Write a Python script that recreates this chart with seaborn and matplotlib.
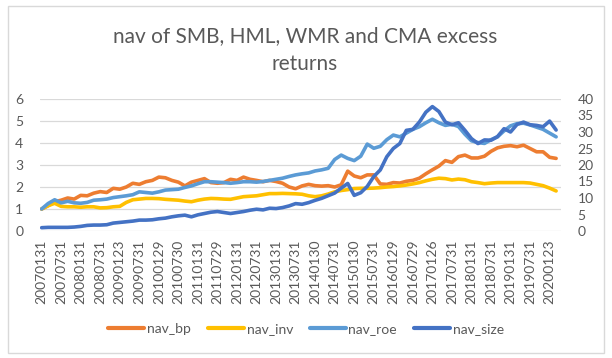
import numpy as np
import pandas as pd
import matplotlib
matplotlib.use("Agg")
import matplotlib.pyplot as plt
import seaborn as sns
from matplotlib.patches import Rectangle
from matplotlib.lines import Line2D

title = "nav of SMB, HML, WMR and CMA excess\nreturns"
tick_labels = ["20070131", "20070731", "20080131", "20080731", "20090123", "20090731",
               "20100129", "20100730", "20110131", "20110729", "20120131", "20120731",
               "20130131", "20130731", "20140130", "20140731", "20150130", "20150731",
               "20160129", "20160729", "20170126", "20170731", "20180131", "20180731",
               "20190131", "20190731", "20200123"]
n_categories = 160          # monthly categories 2007-01 .. 2020-04
month_idx = list(range(0, 160, 2))   # category index of each sampled point

nav_bp = [1.0, 1.15, 1.33, 1.4, 1.5, 1.45, 1.62, 1.6, 1.72, 1.79,
          1.75, 1.94, 1.9, 2.0, 2.17, 2.12, 2.24, 2.3, 2.45, 2.42,
          2.3, 2.22, 2.05, 2.22, 2.3, 2.38, 2.2, 2.17, 2.2, 2.35,
          2.3, 2.45, 2.35, 2.3, 2.24, 2.3, 2.25, 2.17, 2.0, 1.92,
          2.05, 2.12, 2.06, 2.04, 2.06, 2.0, 2.1, 2.72, 2.5, 2.42,
          2.55, 2.55, 2.14, 2.12, 2.2, 2.18, 2.26, 2.3, 2.4, 2.6,
          2.78, 2.95, 3.2, 3.12, 3.38, 3.45, 3.32, 3.32, 3.4, 3.62,
          3.78, 3.85, 3.88, 3.83, 3.9, 3.75, 3.6, 3.6, 3.35, 3.3]
nav_inv = [1.0, 1.15, 1.26, 1.12, 1.1, 1.1, 1.08, 1.1, 1.1, 1.05,
           1.06, 1.1, 1.12, 1.3, 1.42, 1.45, 1.48, 1.48, 1.47, 1.44,
           1.42, 1.4, 1.36, 1.33, 1.4, 1.45, 1.48, 1.47, 1.45, 1.44,
           1.5, 1.56, 1.58, 1.6, 1.65, 1.7, 1.7, 1.71, 1.7, 1.69,
           1.67, 1.6, 1.56, 1.6, 1.68, 1.78, 1.84, 1.88, 1.93, 1.94,
           1.94, 1.95, 1.97, 2.0, 2.02, 2.05, 2.09, 2.14, 2.2, 2.28,
           2.35, 2.4, 2.38, 2.32, 2.36, 2.33, 2.24, 2.2, 2.15, 2.18,
           2.2, 2.2, 2.2, 2.2, 2.2, 2.18, 2.12, 2.06, 1.95, 1.82]
nav_roe = [1.0, 1.25, 1.42, 1.28, 1.35, 1.28, 1.26, 1.3, 1.4, 1.42,
           1.45, 1.52, 1.56, 1.6, 1.65, 1.78, 1.75, 1.72, 1.78, 1.86,
           1.88, 1.9, 1.98, 2.05, 2.15, 2.24, 2.24, 2.22, 2.2, 2.17,
           2.2, 2.24, 2.24, 2.22, 2.25, 2.3, 2.35, 2.4, 2.48, 2.55,
           2.6, 2.64, 2.73, 2.78, 2.85, 3.25, 3.45, 3.3, 3.2, 3.4,
           3.95, 3.76, 3.85, 4.15, 4.36, 4.28, 4.45, 4.62, 4.74, 4.92,
           5.08, 4.92, 4.8, 4.85, 4.75, 4.4, 4.1, 4.02, 3.98, 4.15,
           4.28, 4.55, 4.78, 4.88, 4.9, 4.82, 4.72, 4.62, 4.45, 4.28]
nav_size = [1.0, 1.1, 1.1, 1.1, 1.1, 1.2, 1.4, 1.7, 1.8, 1.8,
            1.9, 2.4, 2.6, 2.8, 3.0, 3.3, 3.3, 3.4, 3.7, 3.9,
            4.3, 4.6, 4.8, 4.3, 4.9, 5.3, 5.7, 5.9, 5.6, 5.3,
            5.6, 5.9, 6.3, 6.6, 6.4, 6.9, 6.8, 7.1, 7.6, 8.3,
            8.1, 8.6, 9.3, 9.9, 10.7, 11.5, 13.0, 14.4, 10.8, 11.6,
            13.5, 16.5, 18.5, 22.5, 25.0, 26.5, 30.5, 30.8, 33.0, 36.0,
            37.7, 36.2, 33.0, 32.2, 32.8, 30.5, 28.0, 26.5, 27.6, 27.5,
            28.6, 31.0, 30.0, 32.3, 33.0, 32.2, 32.0, 31.6, 33.3, 30.6]

left_series = ["nav_bp", "nav_inv", "nav_roe"]
colors = {"nav_bp": "#ED7D31", "nav_inv": "#FFC000", "nav_roe": "#5B9BD5", "nav_size": "#4472C4"}

sns.set_theme(style="white")
plt.rcParams['font.family'] = ['Lato', 'DejaVu Sans']
text_color = "#595959"
grid_color = "#D9D9D9"

W, H = 612, 358
fig = plt.figure(figsize=(W / 100, H / 100), dpi=100)
fig.patch.set_facecolor("white")
fig.patches.append(Rectangle((8 / W, 1 - 353 / H), (604 - 8) / W, (353 - 6) / H,
                             transform=fig.transFigure, fill=False,
                             edgecolor=grid_color, linewidth=1.0))

pl, pr, pt, pb = 40, 561, 99, 231
ax = fig.add_axes([pl / W, 1 - pb / H, (pr - pl) / W, (pb - pt) / H])

df = pd.DataFrame({"month": month_idx, "nav_bp": nav_bp, "nav_inv": nav_inv, "nav_roe": nav_roe})
long = df.melt(id_vars="month", var_name="series", value_name="nav")
lw = 2.6
sns.lineplot(data=long, x="month", y="nav", hue="series", hue_order=left_series,
             palette=colors, linewidth=lw, ax=ax, legend=False)
ax.set_ylim(0, 6)
ax.set_yticks(range(0, 7))
ax.set_xlim(-0.5, n_categories - 0.5)
ax.set_xticks(range(0, len(tick_labels) * 6, 6))
ax.set_xticklabels(tick_labels, rotation=90)
ax.yaxis.grid(True, color=grid_color, linewidth=0.9)
ax.xaxis.grid(False)
for s in ax.spines.values():
    s.set_visible(False)
ax.tick_params(axis="x", length=0, pad=6, labelsize=10, labelcolor=text_color)
ax.tick_params(axis="y", length=0, pad=12, labelsize=10, labelcolor=text_color)
ax.set_xlabel("")
ax.set_ylabel("")

ax2 = ax.twinx()
sns.lineplot(x=month_idx, y=nav_size, color=colors["nav_size"], linewidth=lw, ax=ax2)
ax2.set_ylim(0, 40)
ax2.set_yticks(range(0, 45, 5))
ax2.set_xlim(-0.5, n_categories - 0.5)
for s in ax2.spines.values():
    s.set_visible(False)
ax2.tick_params(axis="y", length=0, pad=12, labelsize=10, labelcolor=text_color)
ax2.set_ylabel("")

fig.text(305 / W, 1 - 50 / H, title, ha="center", va="center", fontsize=15,
         color=text_color, linespacing=1.5)

handles = [Line2D([], [], color=colors[k], linewidth=3) for k in ["nav_bp", "nav_inv", "nav_roe", "nav_size"]]
fig.legend(handles, ["nav_bp", "nav_inv", "nav_roe", "nav_size"], loc="center",
           bbox_to_anchor=(306 / W, 1 - 329 / H), ncol=4, frameon=False,
           fontsize=10, labelcolor=text_color, handlelength=2.6, handletextpad=0.2,
           columnspacing=1.2)

fig.savefig("out.png", dpi=100, facecolor="white")
